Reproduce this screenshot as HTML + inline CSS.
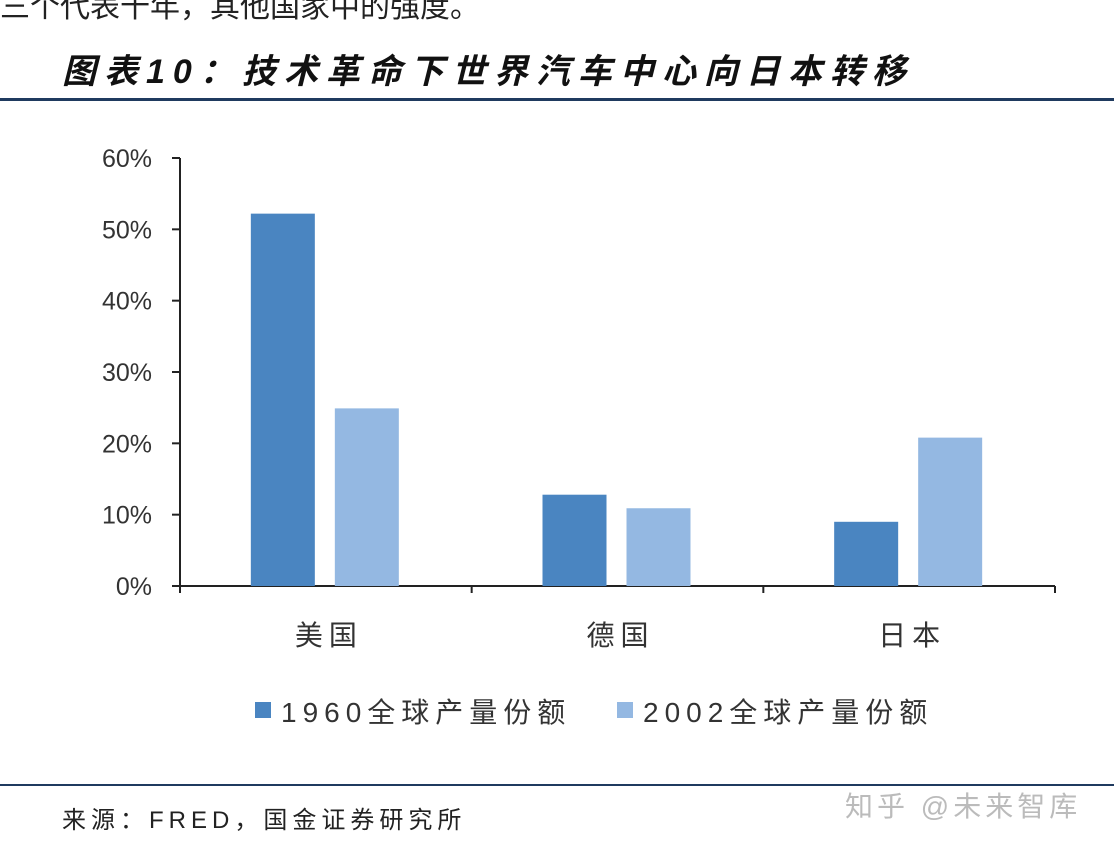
<!DOCTYPE html>
<html><head><meta charset="utf-8"><style>
body{margin:0;width:1114px;height:850px;background:#fff;overflow:hidden;position:relative;font-family:"Liberation Sans","Noto Sans CJK SC",sans-serif}
.t{position:absolute;white-space:nowrap}
</style></head><body>
<div class="t" style="left:0;top:-18px;font-size:30px;color:#222">三个代表十年，其他国家中的强度。</div>
<div class="t" style="left:62px;top:44px;font-size:34px;font-weight:bold;font-style:italic;color:#111;letter-spacing:8px">图表10：技术革命下世界汽车中心向日本转移</div>
<div style="position:absolute;left:0;top:98px;width:1114px;height:3px;background:#1f3a5f"></div>
<svg id="c" width="1114" height="850" style="position:absolute;left:0;top:0"></svg>
<div style="position:absolute;left:0;top:784px;width:1114px;height:2px;background:#1f3a5f"></div>
<div class="t" style="left:62px;top:800px;font-size:24px;color:#222;letter-spacing:5px">来源：FRED，国金证券研究所</div>
<div class="t" style="left:845px;top:785px;font-size:28px;color:#bbb;letter-spacing:4px">知乎 @未来智库</div>
<script>
const categories=["美国","德国","日本"];
const series1960=[52.2,12.8,9.0];
const series2002=[24.9,10.9,20.8];
const yTicks=[0,10,20,30,40,50,60];
const seriesNames=["1960全球产量份额","2002全球产量份额"];
const colors=["#4a85c1","#94b8e2"];
const svg=document.getElementById('c');const NS="http://www.w3.org/2000/svg";
const x0=180,x1=1055,y0=586,yTop=158;
const y=v=>y0-(v/60)*(y0-yTop);
const bw=(x1-x0)/categories.length;
function mk(t,a,txt){const e=document.createElementNS(NS,t);for(const k in a)e.setAttribute(k,a[k]);if(txt!=null)e.textContent=txt;svg.appendChild(e);return e;}
let e=mk('line',{x1:x0,x2:x0,y1:yTop,y2:y0,stroke:'#222','stroke-width':2});

e=mk('line',{x1:x0,x2:x1,y1:y0,y2:y0,stroke:'#222','stroke-width':2});

yTicks.forEach(v=>{
 e=mk('line',{x1:x0-8,x2:x0,y1:y(v),y2:y(v),stroke:'#222','stroke-width':2});
 
 e=mk('text',{x:x0-28,y:y(v)+9,'text-anchor':'end','font-size':25,fill:'#333'},v+'%');
 
});
for(let i=0;i<=categories.length;i++){
 e=mk('line',{x1:x0+i*bw,x2:x0+i*bw,y1:y0,y2:y0+7,stroke:'#222','stroke-width':2});
 
}
categories.forEach((c,i)=>{
 const cx=x0+bw*(i+0.5);
 [series1960,series2002].forEach((s,j)=>{
  const bx=cx-75+j*84;
  e=mk('rect',{x:bx,y:y(s[i]),width:64,height:y0-y(s[i]),fill:colors[j]});
  
 });
 e=mk('text',{x:cx+3,y:645,'text-anchor':'middle','font-size':28,fill:'#333','letter-spacing':'6'},c);
 
});
const lx=[255,617];
seriesNames.forEach((n,j)=>{
 e=mk('rect',{x:lx[j],y:702,width:16,height:16,fill:colors[j]});
 
 e=mk('text',{x:lx[j]+26,y:722,'font-size':28,fill:'#333','letter-spacing':'6'},n);
 
});
</script>
</body></html>
